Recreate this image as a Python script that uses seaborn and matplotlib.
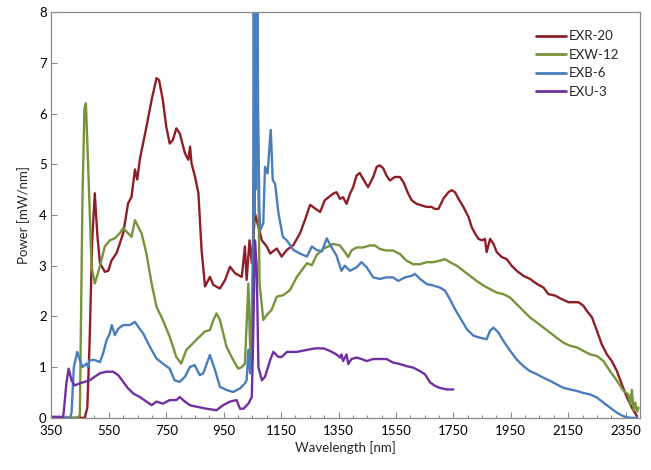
import matplotlib
matplotlib.use("Agg")
import matplotlib.pyplot as plt
import seaborn as sns
import pandas as pd
from matplotlib.ticker import MultipleLocator

sns.set_theme(style="white")
plt.rcParams['font.family'] = ['Lato', 'DejaVu Sans']

# ---------------- data ----------------
exr_x = [350, 440, 466, 475, 483, 492, 501, 510, 519, 536, 548, 559, 577, 600, 617, 629, 641, 649, 658,
         681, 699, 716, 725, 738, 750, 762, 773, 785, 797, 815, 827, 833, 838, 850, 862, 873, 885, 902,
         914, 937, 955, 972, 990, 1013, 1024, 1030, 1040, 1048, 1059, 1071, 1083, 1100, 1112, 1135, 1152,
         1170, 1193, 1216, 1233, 1251, 1268, 1286, 1302, 1331, 1343, 1355, 1366, 1378, 1390, 1401, 1413,
         1424, 1442, 1453, 1471, 1483, 1494, 1506, 1517, 1529, 1546, 1564, 1576, 1593, 1605, 1622, 1640,
         1657, 1674, 1686, 1698, 1715, 1733, 1744, 1756, 1768, 1785, 1803, 1814, 1826, 1838, 1849, 1860,
         1866, 1878, 1890, 1901, 1919, 1936, 1953, 1971, 1994, 2017, 2041, 2064, 2081, 2105, 2128, 2151,
         2174, 2186, 2203, 2215, 2233, 2250, 2267, 2285, 2302, 2320, 2337, 2355, 2372, 2390]
exr_y = [0.0, 0.0, 0.0, 0.2, 1.5, 3.5, 4.43, 3.6, 3.05, 2.88, 2.9, 3.1, 3.25, 3.64, 4.23, 4.36, 4.9, 4.7, 5.1,
         5.74, 6.27, 6.7, 6.66, 6.27, 5.74, 5.41, 5.48, 5.71, 5.61, 5.22, 5.09, 5.35, 5.02, 4.76, 4.43, 3.31,
         2.59, 2.78, 2.62, 2.55, 2.72, 2.98, 2.85, 2.78, 3.38, 2.72, 3.5, 3.05, 4.03, 3.77, 3.5, 3.38, 3.24,
         3.34, 3.18, 3.31, 3.41, 3.64, 3.9, 4.2, 4.13, 4.06, 4.29, 4.42, 4.45, 4.32, 4.35, 4.22, 4.42, 4.55,
         4.78, 4.83, 4.65, 4.55, 4.75, 4.95, 4.98, 4.92, 4.78, 4.68, 4.75, 4.75, 4.65, 4.42, 4.29, 4.22, 4.19,
         4.16, 4.16, 4.12, 4.12, 4.32, 4.45, 4.49, 4.45, 4.32, 4.16, 3.96, 3.76, 3.63, 3.53, 3.5, 3.53,
         3.27, 3.53, 3.43, 3.27, 3.17, 3.13, 3.0, 2.9, 2.8, 2.74, 2.64, 2.57, 2.44, 2.41, 2.34, 2.28,
         2.28, 2.28, 2.21, 2.11, 1.98, 1.72, 1.45, 1.25, 1.12, 0.92, 0.66, 0.40, 0.2, 0.03]

exw_x = [350, 440, 449, 458, 465, 470, 474, 478, 490, 501, 512, 524, 536, 553, 571, 588, 600, 617, 629, 641,
         652, 664, 681, 699, 716, 738, 762, 785, 802, 820, 843, 866, 884, 902, 914, 925, 937, 960, 983,
         1001, 1013, 1024, 1036, 1044, 1053, 1060, 1068, 1071, 1075, 1088, 1100, 1117, 1135, 1158, 1181,
         1205, 1222, 1240, 1257, 1274, 1298, 1315, 1331, 1355, 1372, 1384, 1395, 1413, 1436, 1459, 1477,
         1494, 1517, 1540, 1564, 1587, 1610, 1634, 1657, 1680, 1703, 1721, 1738, 1762, 1785, 1808, 1831,
         1855, 1878, 1901, 1924, 1948, 1971, 1994, 2017, 2041, 2064, 2087, 2110, 2134, 2157, 2180, 2203,
         2227, 2250, 2273, 2296, 2320, 2343, 2360, 2366, 2372, 2378, 2384, 2390, 2395]
exw_y = [0.0, 0.0, 0.05, 4.3, 6.1, 6.2, 5.6, 4.95, 2.98, 2.65, 2.85, 3.11, 3.38, 3.5, 3.54, 3.64, 3.74, 3.64,
         3.57, 3.9, 3.77, 3.64, 3.24, 2.65, 2.19, 1.93, 1.6, 1.2, 1.07, 1.34, 1.47, 1.6, 1.7, 1.73, 1.93, 2.06,
         1.93, 1.4, 1.14, 0.97, 1.0, 1.07, 2.65, 1.0, 3.64, 5.5, 6.7, 4.5, 2.65, 1.93, 2.03, 2.13, 2.39, 2.42,
         2.52, 2.78, 2.91, 3.05, 3.01, 3.21, 3.34, 3.38, 3.43, 3.4, 3.27, 3.17, 3.3, 3.36, 3.36, 3.4, 3.4,
         3.33, 3.3, 3.3, 3.23, 3.1, 3.03, 3.03, 3.07, 3.07, 3.1, 3.13, 3.07, 3.0, 2.9, 2.8, 2.7,
         2.61, 2.54, 2.47, 2.44, 2.37, 2.24, 2.11, 1.98, 1.88, 1.78, 1.68, 1.58, 1.48, 1.42, 1.39, 1.32,
         1.25, 1.22, 1.12, 0.92, 0.73, 0.53, 0.46, 0.25, 0.55, 0.15, 0.3, 0.12, 0.2]

exb_x = [350, 415, 420, 428, 440, 449, 458, 472, 478, 483, 501, 519, 530, 542, 553, 560, 571, 583, 600, 623,
         641, 652, 670, 693, 716, 738, 762, 779, 797, 815, 832, 849, 867, 879, 902, 920, 937, 960, 983,
         1007, 1024, 1030, 1036, 1042, 1048, 1052, 1055, 1057, 1059, 1061, 1063, 1065, 1067, 1070, 1074,
         1077, 1088, 1094, 1103, 1114, 1121, 1129, 1141, 1156, 1170, 1193, 1216, 1240, 1257, 1274, 1292,
         1309, 1326, 1343, 1360, 1372, 1390, 1413, 1430, 1448, 1471, 1494, 1517, 1540, 1558, 1581, 1605,
         1616, 1634, 1657, 1680, 1703, 1721, 1738, 1756, 1773, 1797, 1820, 1843, 1866, 1878, 1890, 1907,
         1924, 1948, 1971, 1994, 2017, 2041, 2064, 2087, 2110, 2134, 2157, 2180, 2203, 2227, 2250, 2273,
         2296, 2320, 2343, 2366, 2390]
exb_y = [0.0, 0.0, 0.1, 1.0, 1.3, 1.14, 1.0, 1.07, 1.0, 1.14, 1.14, 1.1, 1.27, 1.53, 1.66, 1.83, 1.63, 1.76,
         1.83, 1.83, 1.89, 1.8, 1.66, 1.4, 1.17, 1.07, 0.97, 0.74, 0.71, 0.81, 1.0, 1.04, 0.84, 0.88, 1.24,
         0.94, 0.61, 0.55, 0.51, 0.58, 0.68, 0.74, 1.34, 0.88, 1.27, 2.3, 9.5, 4.0, 9.5, 4.5, 9.5, 5.0, 9.5,
         6.0, 4.2, 3.7, 3.84, 4.95, 4.82, 5.68, 4.69, 4.62, 4.03, 3.57, 3.5, 3.31, 3.24, 3.18, 3.38, 3.31,
         3.28, 3.54, 3.36, 3.2, 2.9, 3.0, 2.9, 2.97, 3.07, 2.97, 2.77, 2.74, 2.77, 2.77, 2.7, 2.77, 2.8,
         2.84, 2.74, 2.64, 2.61, 2.57, 2.51, 2.34, 2.14, 1.98, 1.75, 1.62, 1.58, 1.55, 1.72, 1.78, 1.68,
         1.52, 1.32, 1.15, 1.02, 0.92, 0.86, 0.79, 0.73, 0.66, 0.59, 0.56, 0.53, 0.49, 0.46, 0.4, 0.3,
         0.2, 0.1, 0.03, 0.0, 0.0]

exu_x = [350, 391, 396, 402, 410, 420, 431, 449, 466, 483, 501, 519, 542, 565, 583, 600, 617, 635, 658, 681,
         699, 716, 738, 762, 785, 797, 815, 832, 855, 890, 925, 948, 972, 995, 1007, 1019, 1036, 1048, 1053,
         1059, 1065, 1071, 1083, 1094, 1112, 1123, 1141, 1152, 1170, 1205, 1240, 1268, 1298, 1320, 1343,
         1355, 1360, 1366, 1378, 1384, 1395, 1413, 1430, 1448, 1471, 1494, 1517, 1540, 1564, 1587, 1610,
         1634, 1651, 1669, 1686, 1703, 1727, 1750]
exu_y = [0.02, 0.02, 0.3, 0.68, 0.97, 0.74, 0.64, 0.68, 0.71, 0.74, 0.81, 0.88, 0.91, 0.91, 0.84, 0.71, 0.58,
         0.48, 0.41, 0.32, 0.25, 0.32, 0.28, 0.35, 0.35, 0.41, 0.32, 0.25, 0.22, 0.18, 0.15, 0.25, 0.32, 0.35,
         0.18, 0.18, 0.28, 0.41, 1.66, 3.5, 2.98, 1.0, 0.74, 0.81, 1.14, 1.3, 1.2, 1.2, 1.3, 1.3, 1.34, 1.37,
         1.37, 1.32, 1.25, 1.19, 1.25, 1.12, 1.25, 1.06, 1.16, 1.19, 1.16, 1.12, 1.16, 1.16, 1.16, 1.09, 1.06,
         1.02, 0.99, 0.92, 0.86, 0.7, 0.63, 0.59, 0.56, 0.56]

series_names = ["EXR-20", "EXW-12", "EXB-6", "EXU-3"]
colors = ["#8E1F28", "#77933C", "#4A7EBB", "#7030A0"]

xticks = [350, 550, 750, 950, 1150, 1350, 1550, 1750, 1950, 2150, 2350]
yticks = [0, 1, 2, 3, 4, 5, 6, 7, 8]

frames = []
for name, xs, ys in zip(series_names, [exr_x, exw_x, exb_x, exu_x], [exr_y, exw_y, exb_y, exu_y]):
    frames.append(pd.DataFrame({"Wavelength": xs, "Power": ys, "Series": name}))
df = pd.concat(frames, ignore_index=True)

fig = plt.figure(figsize=(6.51, 4.70), dpi=100)
ax = fig.add_axes([0.079, 0.111, 0.904, 0.863])

sns.lineplot(data=df, x="Wavelength", y="Power", hue="Series", hue_order=series_names,
             palette=colors, sort=False, estimator=None, linewidth=1.7, ax=ax)

ax.set_xlim(350, 2400)
ax.set_ylim(0, 8)
ax.set_xticks(xticks)
ax.set_xticklabels([str(t) for t in xticks])
ax.set_yticks(yticks)
ax.set_yticklabels([str(t) for t in yticks])
ax.xaxis.set_minor_locator(MultipleLocator(50))
ax.tick_params(axis="both", which="major", direction="in", length=4, width=0.8,
               color="#888888", labelsize=9.5, colors="#000000")
ax.tick_params(axis="x", which="minor", direction="in", length=2.5, width=0.8, color="#888888")
ax.tick_params(axis="x", which="both", bottom=True)
ax.tick_params(axis="y", which="both", left=True)
ax.tick_params(axis="x", which="major", pad=5)
for sp in ax.spines.values():
    sp.set_color("#8C8C8C")
    sp.set_linewidth(0.9)

ax.set_xlabel("Wavelength [nm]", fontsize=9.5, labelpad=3)
ax.set_ylabel("Power [mW/nm]", fontsize=9.5, labelpad=6)

leg = ax.legend(loc="upper right", bbox_to_anchor=(0.985, 0.985), frameon=False, fontsize=9.5,
                handlelength=2.3, handletextpad=0.2, labelspacing=0.5)
for line in leg.get_lines():
    line.set_linewidth(2.0)

fig.savefig("out.png", dpi=100)
